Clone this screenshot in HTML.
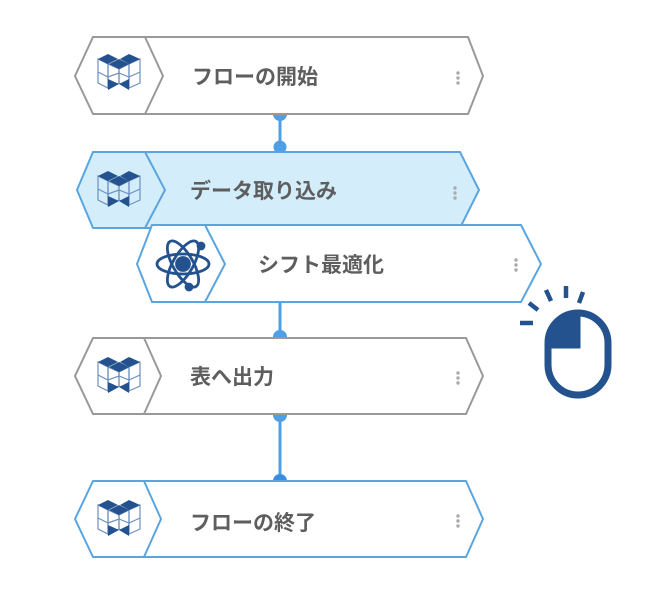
<!DOCTYPE html>
<html><head><meta charset="utf-8"><style>
html,body{margin:0;padding:0;background:#fff;width:650px;height:603px;overflow:hidden}
svg text{font-family:"Liberation Sans","Noto Sans CJK JP",sans-serif;font-size:21px;font-weight:bold;fill:#5e5e5e}
</style></head><body>
<svg width="650" height="603" viewBox="0 0 650 603" xmlns="http://www.w3.org/2000/svg">
<defs>
<g id="cube">
 <g fill="none" stroke="#6d8fc0" stroke-width="1.2">
  <path d="M0,7 V31 L10,36 V12 Z"/>
  <path d="M10,12 V36 L21,31 V17 Z"/>
  <path d="M21,17 V31 L31,36 V12 Z"/>
  <path d="M31,12 V36 L42,31 V7 Z"/>
  <path d="M0,20 L10,25 L21,21 L31,25 L42,20"/>
 </g>
 <g fill="#23528f">
  <path d="M0,7 L10,2 L20,7 L10,12 Z"/>
  <path d="M22,7 L31,2 L42,7 L31,12 Z"/>
  <path d="M11,12 L21,7 L31,12 L21,17 Z"/>
  <path d="M10,27 L21,32 L10,38 Z"/>
  <path d="M31,27 L21,32 L31,38 Z"/>
 </g>
</g>
<g id="dots" fill="#aaa"><circle cx="0" cy="-5" r="1.7"/><circle cx="0" cy="0" r="1.7"/><circle cx="0" cy="5" r="1.7"/></g>
</defs>

<g stroke="#4f9fe6" stroke-width="3" fill="#4f9fe6">
 <line x1="280" y1="114" x2="280" y2="148"/>
 <path d="M273,114 A7,7 0 0 0 287,114 Z" stroke="none"/>
 <circle cx="280" cy="147" r="6.5" stroke="none"/>
 <line x1="280" y1="300" x2="280" y2="335"/>
 <path d="M273,337 A7,7 0 0 1 287,337 Z" stroke="none"/>
 <line x1="280" y1="414" x2="280" y2="481"/>
 <path d="M273,415 A7,7 0 0 0 287,415 Z" stroke="none"/>
 <path d="M273,481 A7,7 0 0 1 287,481 Z" stroke="none" fill="#3a8ee0"/>
</g>

<path d="M93,37 H468 L483,76 L468,114 H93 L75,76 Z" fill="#fff" stroke="#999" stroke-width="2"/>
<path d="M145,37 L163,76 L145,114" fill="none" stroke="#999" stroke-width="2"/>
<use href="#cube" x="98" y="52"/>
<text x="192" y="84">フローの開始</text>
<use href="#dots" x="458" y="78"/>

<path d="M93,152 H460 L479,190 L460,228 H93 L77,190 Z" fill="#d3eefa" stroke="#5aa5e0" stroke-width="2"/>
<path d="M145,152 L165,190 L145,228" fill="none" stroke="#5aa5e0" stroke-width="2"/>
<use href="#cube" x="98" y="169"/>
<text x="190" y="198">データ取り込み</text>
<use href="#dots" x="455" y="193"/>

<path d="M152,225 H521 L541,264 L521,302 H152 L137,264 Z" fill="#fff" stroke="#5aa5e0" stroke-width="2"/>
<path d="M205,225 L225,264 L205,302" fill="none" stroke="#5aa5e0" stroke-width="2"/>
<g transform="translate(183,264)" fill="none" stroke="#23528f" stroke-width="2.8">
 <ellipse rx="26" ry="10"/>
 <ellipse rx="26" ry="10" transform="rotate(60)"/>
 <ellipse rx="26" ry="10" transform="rotate(-60)"/>
 <circle r="6.5" fill="#23528f"/>
 <circle cx="18" cy="-18" r="3" fill="#23528f"/>
 <circle cx="6" cy="23" r="3" fill="#23528f"/>
</g>
<text x="258" y="272">シフト最適化</text>
<use href="#dots" x="516" y="265"/>

<path d="M93,338 H466 L483,376 L466,414 H93 L75,376 Z" fill="#fff" stroke="#999" stroke-width="2"/>
<path d="M144,338 L161,376 L144,414" fill="none" stroke="#999" stroke-width="2"/>
<use href="#cube" x="98" y="355"/>
<text x="190" y="384">表へ出力</text>
<use href="#dots" x="458" y="378"/>

<path d="M93,481 H466 L483,519 L466,557 H93 L75,519 Z" fill="#fff" stroke="#5aa5e0" stroke-width="2"/>
<path d="M144,481 L161,519 L144,557" fill="none" stroke="#5aa5e0" stroke-width="2"/>
<use href="#cube" x="98" y="498"/>
<text x="190" y="530">フローの終了</text>
<use href="#dots" x="458" y="521"/>

<g stroke="#23528f" fill="none">
 <rect x="548" y="313" width="60" height="82" rx="30" stroke-width="7"/>
 <path d="M550,346 H578 V315" stroke-width="5"/>
 <path d="M551,344 V338 A27,25 0 0 1 576,316 V344 Z" fill="#23528f" stroke="none"/>
 <g stroke-width="4.5">
  <line x1="520" y1="323" x2="533" y2="323"/>
  <line x1="529" y1="303" x2="538" y2="310"/>
  <line x1="546" y1="290" x2="551" y2="301"/>
  <line x1="566" y1="286" x2="566" y2="298"/>
  <line x1="583" y1="292" x2="579" y2="303"/>
 </g>
</g>
</svg>
</body></html>
